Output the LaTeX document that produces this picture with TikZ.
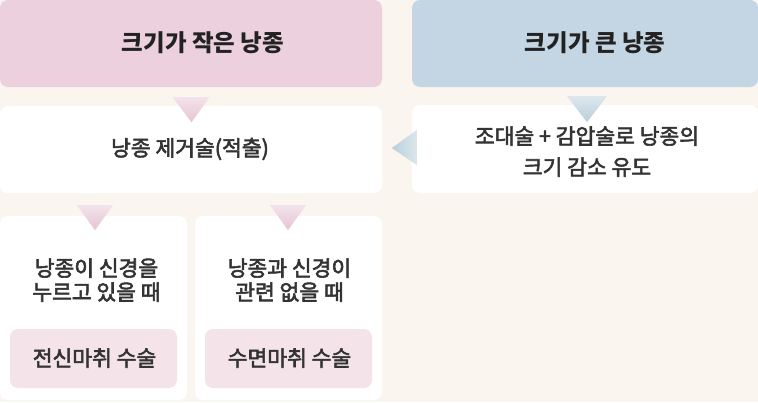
\documentclass[tikz,border=0pt]{standalone}
\usepackage{fontspec}
\setmainfont{Noto Sans CJK KR}
\newfontfamily\krmed[FakeBold=2.6]{Noto Sans CJK KR}
\usetikzlibrary{calc}
\definecolor{bgc}{HTML}{FAF5EE}
\definecolor{pinkh}{HTML}{EDD0DE}
\definecolor{blueh}{HTML}{C4D6E3}
\definecolor{pinkin}{HTML}{F5E3EA}
\definecolor{txt}{HTML}{333333}
\definecolor{hdrtxt}{HTML}{222222}
\definecolor{pinkT}{HTML}{E6C3D4}
\definecolor{pinkL}{HTML}{F3E3EA}
\definecolor{blueT}{HTML}{B9CFDB}
\definecolor{blueL}{HTML}{DCE7EC}
\tikzset{
  box/.style={rounded corners=8pt, inner sep=0pt},
  hdr/.style={box, font=\fontsize{23.5}{28}\selectfont\bfseries, text=hdrtxt},
  wbox/.style={box, fill=white},
  lbl/.style={font=\krmed\fontsize{21.5}{24}\selectfont, text=txt, align=center, inner sep=0pt},
}
\begin{document}
\begin{tikzpicture}[x=1pt,y=-1pt]
\useasboundingbox (0,0) rectangle (758,402);
\fill[bgc] (0,0) rectangle (758,402);
% headers
\node[box, fill=pinkh, minimum width=382pt, minimum height=87pt] (h1) at (191,43.5) {};
\node[box, fill=blueh, minimum width=346pt, minimum height=87pt] (h2) at (585,43.5) {};
\node[hdr] (h1t) at (203,42.5) {크기가 작은 낭종};
\node[hdr] (h2t) at (595,42.5) {크기가 큰 낭종};
% white boxes
\node[wbox, minimum width=382pt, minimum height=87pt] (w1) at (191,149.5) {};
\node[wbox, minimum width=346pt, minimum height=88pt] (w2) at (585,149) {};
\node[lbl] (w1t) at (190,149) {낭종 제거술(적출)};
\node[lbl, font=\krmed\fontsize{21.5}{31}\selectfont] (w2t) at (587,151.5) {조대술 + 감압술로 낭종의\\크기 감소 유도};
% bottom boxes
\node[wbox, minimum width=187pt, minimum height=184pt] (a) at (93.5,308) {};
\node[wbox, minimum width=187pt, minimum height=184pt] (b) at (288.5,308) {};
\node[lbl] (at) at (96.5,280) {낭종이 신경을\\누르고 있을 때};
\node[lbl] (bt) at (289.5,280) {낭종과 신경이\\관련 없을 때};
\node[box, fill=pinkin, minimum width=167pt, minimum height=59pt] (pa) at (93.5,358.5) {};
\node[box, fill=pinkin, minimum width=167pt, minimum height=59pt] (pb) at (288.5,358.5) {};
\node[lbl] (pat) at (94.5,358) {전신마취 수술};
\node[lbl] (pbt) at (289.5,358) {수면마취 수술};
% connector triangles
\shade[top color=pinkL, bottom color=pinkT] ($(h1.south)+(-18.5,10)$) -- ++(37,0) -- ($(h1.south)+(0.5,35)$) -- cycle;
\shade[top color=blueL, bottom color=blueT] ($(h2.south)+(-18,9)$) -- ++(40,0) -- ($(h2.south)+(2,35)$) -- cycle;
\shade[left color=blueT, right color=blueL] ($(w2.west)+(5,-19)$) -- ++(0,35) -- ($(w2.west)+(-20,-1)$) -- cycle;
\shade[top color=pinkL, bottom color=pinkT] ($(w1.south)+(-114,12)$) -- ++(36,0) -- ($(w1.south)+(-96,37)$) -- cycle;
\shade[top color=pinkL, bottom color=pinkT] ($(w1.south)+(79,12)$) -- ++(36,0) -- ($(w1.south)+(97,37)$) -- cycle;
\end{tikzpicture}
\end{document}
